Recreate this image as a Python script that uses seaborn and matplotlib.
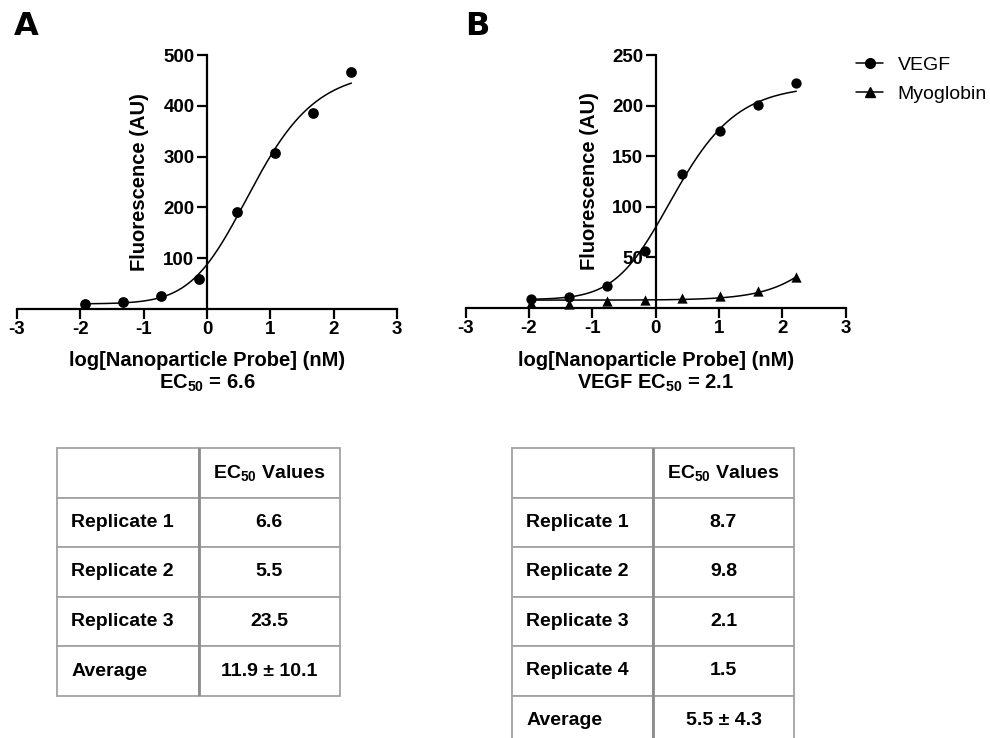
import numpy as np
import pandas as pd
import matplotlib
matplotlib.use("Agg")
import matplotlib.pyplot as plt
from matplotlib.lines import Line2D
import seaborn as sns

# ---------------- data ----------------
log_conc_a = [-1.92, -1.32, -0.72, -0.12, 0.48, 1.08, 1.68, 2.28]
fluor_a = [10, 13, 25, 60, 190, 307, 386, 467]

log_conc_b = [-1.97, -1.37, -0.77, -0.17, 0.42, 1.02, 1.62, 2.22]
fluor_vegf = [9, 10.5, 21.5, 56, 132, 175, 201, 222]
fluor_myo = [5, 3.5, 6.5, 7.5, 9.5, 12, 16.5, 30]

# fitted dose-response parameters (bottom, top, log_c, hill, asymmetry)
fit_a = [10, 470, 0.21, 0.745, 2.0]
fit_vegf = [8, 220, -0.186, 0.768, 2.0]
fit_myo = [7.5, 147, 3.0, 0.9, 1.0]

ec50_label_a = "EC$_{50}$ = 6.6"
ec50_label_b = "VEGF EC$_{50}$ = 2.1"

x_ticks = [-3, -2, -1, 0, 1, 2, 3]
y_ticks_a = [100, 200, 300, 400, 500]
y_ticks_b = [50, 100, 150, 200, 250]

table_rows_a = ["Replicate 1", "Replicate 2", "Replicate 3", "Average"]
table_vals_a = ["6.6", "5.5", "23.5", "11.9 ± 10.1"]
table_rows_b = ["Replicate 1", "Replicate 2", "Replicate 3", "Replicate 4", "Average"]
table_vals_b = ["8.7", "9.8", "2.1", "1.5", "5.5 ± 4.3"]
table_header = "EC$_{50}$ Values"

# ---------------- style ----------------
sns.set_style("ticks")
plt.rcParams["font.family"] = ["Liberation Sans", "DejaVu Sans"]
plt.rcParams["mathtext.fontset"] = "custom"
plt.rcParams["mathtext.rm"] = "Liberation Sans"
plt.rcParams["mathtext.bf"] = "Liberation Sans:bold"
plt.rcParams["mathtext.default"] = "bf"
plt.rcParams["axes.unicode_minus"] = False
for key in ("text.color", "axes.labelcolor", "xtick.color", "ytick.color",
            "axes.edgecolor", "legend.labelcolor"):
    plt.rcParams[key] = "black"

W, H = 990, 738
fig = plt.figure(figsize=(W / 100, H / 100), dpi=100)


def px_axes(left, top, right, bottom):
    return fig.add_axes([left / W, 1 - bottom / H, (right - left) / W, (bottom - top) / H])


def dose_response(x, p):
    b, t, c, h, s = p
    x = np.asarray(x, dtype=float)
    return b + (t - b) / (1 + 10 ** ((c - x) * h)) ** s


def style_axes(ax, ymax, yticks):
    ax.set_xlim(-3, 3)
    ax.set_ylim(0, ymax)
    ax.spines["left"].set_position(("data", 0))
    ax.spines["right"].set_visible(False)
    ax.spines["top"].set_visible(False)
    for sp in ("left", "bottom"):
        ax.spines[sp].set_linewidth(1.6)
        ax.spines[sp].set_color("black")
    ax.set_xticks(x_ticks)
    ax.set_yticks(yticks)
    ax.tick_params(axis="both", direction="out", length=7, width=1.6,
                   labelsize=13.5, pad=2, colors="black")
    for lab in ax.get_xticklabels() + ax.get_yticklabels():
        lab.set_fontweight("bold")
    ax.set_xlabel("log[Nanoparticle Probe] (nM)", fontsize=14.5, fontweight="bold")
    ax.set_ylabel("Fluorescence (AU)", fontsize=14.5, fontweight="bold")


# ---------------- panel A ----------------
ax_a = px_axes(17, 55, 397, 309)
xx_a = np.linspace(min(log_conc_a), max(log_conc_a), 300)
sns.lineplot(x=xx_a, y=dose_response(xx_a, fit_a), color="black", linewidth=1.1, ax=ax_a)
sns.scatterplot(x=log_conc_a, y=fluor_a, marker="o", color="black", s=60,
                linewidth=0, ax=ax_a, zorder=3, clip_on=False)
style_axes(ax_a, 500, y_ticks_a)
ax_a.xaxis.set_label_coords(0.5, -0.165)
ax_a.yaxis.set_label_coords(0.347, 0.5)
ax_a.text(0.5, -0.252, ec50_label_a, transform=ax_a.transAxes, ha="center", va="top",
          fontsize=14.5, fontweight="bold")

# ---------------- panel B ----------------
ax_b = px_axes(465.7, 55, 845.7, 307.7)
xx_b = np.linspace(min(log_conc_b), max(log_conc_b), 300)
sns.lineplot(x=xx_b, y=dose_response(xx_b, fit_vegf), color="black", linewidth=1.1, ax=ax_b)
sns.lineplot(x=xx_b, y=dose_response(xx_b, fit_myo), color="black", linewidth=1.1, ax=ax_b)
sns.scatterplot(x=log_conc_b, y=fluor_myo, marker="^", color="black", s=55,
                linewidth=0, ax=ax_b, zorder=3, clip_on=False)
sns.scatterplot(x=log_conc_b, y=fluor_vegf, marker="o", color="black", s=55,
                linewidth=0, ax=ax_b, zorder=4, clip_on=False)
style_axes(ax_b, 250, y_ticks_b)
ax_b.xaxis.set_label_coords(0.5, -0.172)
ax_b.yaxis.set_label_coords(0.351, 0.5)
ax_b.text(0.5, -0.257, ec50_label_b, transform=ax_b.transAxes, ha="center", va="top",
          fontsize=14.5, fontweight="bold")

handles = [
    Line2D([], [], color="black", marker="o", markersize=7, linewidth=1.1),
    Line2D([], [], color="black", marker="^", markersize=7, linewidth=1.1),
]
fig.legend(handles, ["VEGF", "Myoglobin"], loc="upper left",
           bbox_to_anchor=(856 / W, 1 - 56 / H), frameon=False, fontsize=14,
           handlelength=1.4, handletextpad=0.75, labelspacing=0.62,
           borderpad=0, borderaxespad=0, labelcolor="black")

# panel letters
fig.text(14 / W, 1 - 11 / H, "A", fontsize=23, fontweight="bold", va="top", ha="left",
         family=["DejaVu Sans"])
fig.text(465 / W, 1 - 11 / H, "B", fontsize=23, fontweight="bold", va="top", ha="left",
         family=["DejaVu Sans"])


# ---------------- tables ----------------
def draw_table(ax, row_names, values):
    cell_text = [["", table_header]] + [[r, v] for r, v in zip(row_names, values)]
    tbl = ax.table(cellText=cell_text, cellLoc="center", bbox=[0, 0, 1, 1])
    tbl.auto_set_font_size(False)
    tbl.set_fontsize(14)
    for (r, c), cell in tbl.get_celld().items():
        cell.set_edgecolor("#a3a3a3")
        cell.set_linewidth(1.3)
        cell.get_text().set_fontweight("bold")
        cell.get_text().set_color("black")
        if c == 0:
            cell._loc = "left"
            cell.get_text().set_ha("left")
    ax.axvline(0.5, color="#8c8c8c", linewidth=2.0)
    ax.set_xlim(0, 1)
    ax.set_ylim(0, 1)
    ax.axis("off")


tab_a = px_axes(57, 448, 340, 696)
draw_table(tab_a, table_rows_a, table_vals_a)

tab_b = px_axes(512, 448, 794, 745)
draw_table(tab_b, table_rows_b, table_vals_b)

fig.savefig("out.png", dpi=100)
